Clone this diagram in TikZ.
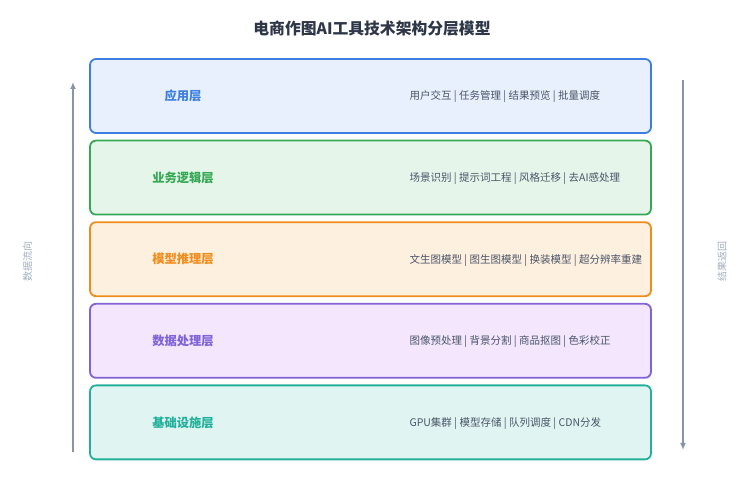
\documentclass[tikz,border=0pt]{standalone}
\usepackage{fontspec}
\setmainfont{Noto Sans CJK SC}
\usepackage{xcolor}
\usepackage{tikz}
\usetikzlibrary{positioning, arrows.meta}

\definecolor{titlegray}{HTML}{2D3748}
\definecolor{descgray}{HTML}{4A5568}
\definecolor{flowgray}{HTML}{8A94A8}
\definecolor{labelgray}{HTML}{A0AEC0}
\definecolor{appline}{HTML}{3D7FE0}
\definecolor{appfill}{HTML}{E8F0FD}
\definecolor{bizline}{HTML}{34A853}
\definecolor{bizfill}{HTML}{E6F5EA}
\definecolor{modline}{HTML}{F08C1C}
\definecolor{modfill}{HTML}{FEF0DF}
\definecolor{datline}{HTML}{8062D9}
\definecolor{datfill}{HTML}{F3E6FD}
\definecolor{infline}{HTML}{22B09B}
\definecolor{inffill}{HTML}{E0F5F2}

\begin{document}
\begin{tikzpicture}[x=1pt, y=1pt,
  layer/.style={draw=#1line, fill=#1fill, line width=1.8pt, rounded corners=6pt,
    minimum width=561pt, minimum height=74pt, inner sep=0pt},
  layername/.style={font=\fontsize{12.3}{14}\selectfont\bfseries, text=#1line},
  layerdesc/.style={font=\fontsize{10.5}{12}\selectfont, text=descgray, anchor=west},
  flowlabel/.style={font=\fontsize{10}{11}\selectfont, text=labelgray, rotate=90},
  flow/.style={draw=flowgray, line width=1.8pt, -{Latex[length=7pt, width=6pt]}}]
\useasboundingbox (0,0) rectangle (745,501);

\node[font=\fontsize{15.8}{18}\selectfont\bfseries, text=titlegray] (title) at (372,472) {电商作图AI工具技术架构分层模型};

% layers, top to bottom
\node[layer=app] (app) at (370.5,405) {};
\node[layer=biz, below=5.8pt of app] (biz) {};
\node[layer=mod, below=5.8pt of biz] (mod) {};
\node[layer=dat, below=5.8pt of mod] (dat) {};
\node[layer=inf, below=5.8pt of dat] (inf) {};

\node[layername=app] (appname) at (app.center -| 183,0) {应用层};
\node[layername=biz] (bizname) at (biz.center -| 183,0) {业务逻辑层};
\node[layername=mod] (modname) at (mod.center -| 183,0) {模型推理层};
\node[layername=dat] (datname) at (dat.center -| 183,0) {数据处理层};
\node[layername=inf] (infname) at (inf.center -| 183,0) {基础设施层};

\node[layerdesc, yshift=-1pt] (appdesc) at (app.center -| 406,0) {用户交互 | 任务管理 | 结果预览 | 批量调度};
\node[layerdesc, yshift=-1pt] (bizdesc) at (biz.center -| 406,0) {场景识别 | 提示词工程 | 风格迁移 | 去AI感处理};
\node[layerdesc, yshift=-1pt] (moddesc) at (mod.center -| 406,0) {文生图模型 | 图生图模型 | 换装模型 | 超分辨率重建};
\node[layerdesc, yshift=-1pt] (datdesc) at (dat.center -| 406,0) {图像预处理 | 背景分割 | 商品抠图 | 色彩校正};
\node[layerdesc, yshift=-1pt] (infdesc) at (inf.center -| 406,0) {GPU集群 | 模型存储 | 队列调度 | CDN分发};

% flow arrows
\coordinate (upstart) at (73,49);
\coordinate (upend) at (73,419);
\coordinate (downstart) at (683,421);
\coordinate (downend) at (683,51);
\draw[flow] (upstart) -- (upend);
\draw[flow] (downstart) -- (downend);
\node[flowlabel] (uplabel) at (27.5,239) {数据流向};
\node[flowlabel] (downlabel) at (722,239) {结果返回};
\end{tikzpicture}
\end{document}
